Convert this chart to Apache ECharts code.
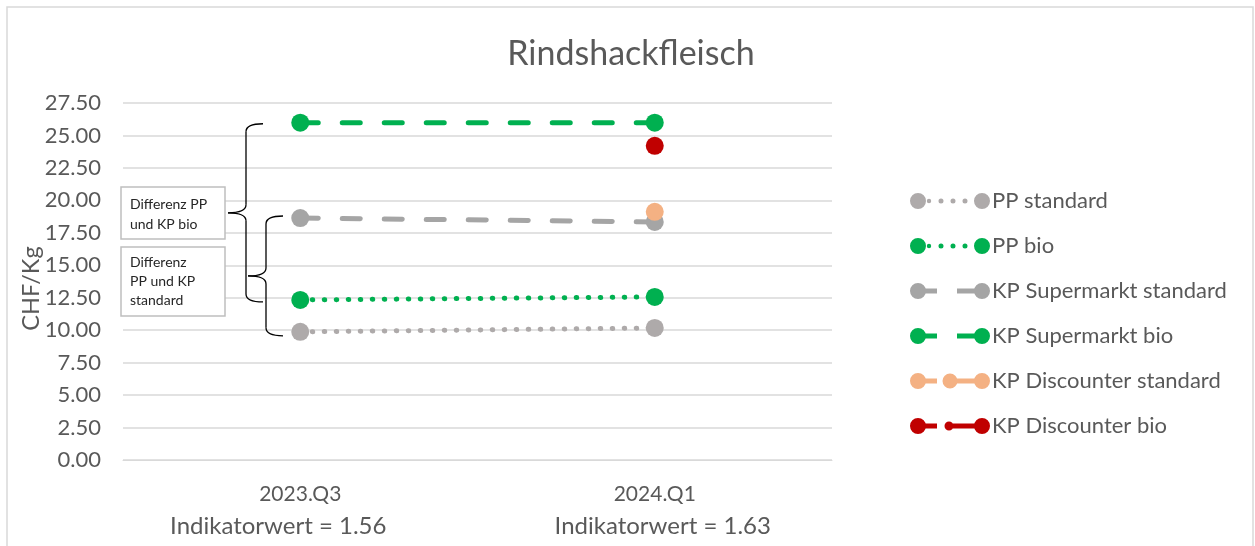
<!DOCTYPE html>
<html>
<head>
<meta charset="utf-8">
<script src="https://cdn.jsdelivr.net/npm/echarts@6/dist/echarts.min.js"></script>
<style>html,body{margin:0;padding:0;background:#fff}#c{width:1255px;height:546px}</style>
</head>
<body>
<div id="c"></div>
<script>
const categories = ['2023.Q3', '2024.Q1'];
const indicatorValues = ['1.56', '1.63'];
const ppStandard = [9.87, 10.17];
const ppBio = [12.33, 12.56];
const kpSupermarktStandard = [18.64, 18.34];
const kpSupermarktBio = [25.98, 25.98];
const kpDiscounterStandard = [null, 19.12];
const kpDiscounterBio = [null, 24.2];
const yTicks = [0, 2.5, 5, 7.5, 10, 12.5, 15, 17.5, 20, 22.5, 25, 27.5];

const FONT = 'Lato';
const TXT = '#595959';

function circ(cx, cy, r) {
  return 'M' + (cx - r) + ',' + cy + 'a' + r + ',' + r + ' 0 1,1 ' + (2 * r) + ',0a' + r + ',' + r + ' 0 1,1 ' + (-2 * r) + ',0Z';
}
function rect(x1, y1, x2, y2) {
  return 'M' + x1 + ',' + y1 + 'L' + x2 + ',' + y1 + 'L' + x2 + ',' + y2 + 'L' + x1 + ',' + y2 + 'Z';
}
const ends = circ(8, 8, 8) + circ(72, 8, 8);
const iconDots = 'path://' + ends + circ(19, 8, 2.2) + circ(31, 8, 2.5) + circ(43, 8, 2.5) + circ(55, 8, 2.5);
const iconDash = 'path://' + ends + rect(8, 5.5, 27, 10.5) + rect(47, 5.5, 72, 10.5);
const iconDiscStd = 'path://' + ends + rect(8, 5.5, 27, 10.5) + circ(40, 8, 7.5) + rect(40, 5.5, 72, 10.5);
const iconDiscBio = 'path://' + ends + rect(8, 5.5, 27, 10.5) + circ(39, 8, 4.5) + rect(39, 5.5, 72, 10.5);

const C_GREY1 = '#AEAAAA', C_GREY2 = '#A5A5A5', C_GREEN = '#00B050', C_PEACH = '#F4B183', C_RED = '#C00000';

function mkSeries(name, data, color, dash) {
  return {
    name: name, type: 'line', data: data, symbol: 'circle', symbolSize: 18,
    itemStyle: { color: color },
    lineStyle: { color: color, width: 5, type: dash, cap: 'round' },
    connectNulls: false, animation: false, z: 3
  };
}

const series = [
  mkSeries('PP standard', ppStandard, C_GREY1, [0.5, 11.5]),
  mkSeries('PP bio', ppBio, C_GREEN, [0.5, 11.5]),
  mkSeries('KP Supermarkt standard', kpSupermarktStandard, C_GREY2, [18, 24]),
  mkSeries('KP Supermarkt bio', kpSupermarktBio, C_GREEN, [18, 24]),
  mkSeries('KP Discounter standard', kpDiscounterStandard, C_PEACH, 'solid'),
  mkSeries('KP Discounter bio', kpDiscounterBio, C_RED, 'solid')
];
const icons = [iconDots, iconDots, iconDash, iconDash, iconDiscStd, iconDiscBio];

const chart = echarts.init(document.getElementById('c'), null, { renderer: 'canvas' });
const option = {
  animation: false,
  backgroundColor: '#fff',
  title: {
    text: 'Rindshackfleisch', top: 32, left: 626, textAlign: 'center',
    textStyle: { fontFamily: FONT, fontSize: 34, fontWeight: 'normal', color: TXT }
  },
  legend: {
    orient: 'vertical', left: 910, top: 190, padding: 0, itemWidth: 80, itemHeight: 16, itemGap: 23,
    selectedMode: false,
    data: series.map((s, i) => ({ name: s.name, icon: icons[i] })),
    textStyle: { fontFamily: FONT, fontSize: 22, color: TXT, lineHeight: 16, padding: [0, 0, 0, -3] }
  },
  grid: { left: 123, right: 1255 - 832, top: 103, bottom: 546 - 460, containLabel: false },
  xAxis: {
    type: 'category', data: categories, boundaryGap: true,
    axisLine: { show: true, lineStyle: { color: '#D9D9D9', width: 1 } },
    axisTick: { show: false },
    axisLabel: {
      margin: 18, color: TXT, lineHeight: 32,
      formatter: (v, i) => '{c|' + v + '}\n{i' + i + '|Indikatorwert = ' + indicatorValues[i] + '}',
      rich: {
        c: { fontFamily: FONT, fontSize: 21, color: TXT, lineHeight: 32 },
        i0: { fontFamily: FONT, fontSize: 24, color: TXT, lineHeight: 32, padding: [0, 44, 0, 0] },
        i1: { fontFamily: FONT, fontSize: 24, color: TXT, lineHeight: 32, padding: [0, 0, 0, 16] }
      }
    }
  },
  yAxis: {
    type: 'value', min: 0, max: 27.5, interval: 2.5,
    name: 'CHF/Kg', nameLocation: 'middle', nameGap: 80, nameRotate: 90, nameMoveOverlap: false,
    nameTextStyle: { fontFamily: FONT, fontSize: 23.5, color: TXT, padding: [0, 14, 0, 0] },
    axisLine: { show: false }, axisTick: { show: false },
    splitLine: { lineStyle: { color: '#D9D9D9', width: 1.5 } },
    axisLabel: { margin: 22, fontFamily: FONT, fontSize: 22, color: TXT, formatter: v => v.toFixed(2) }
  },
  series: series
};
chart.setOption(option);

// annotations: braces anchored to data values at 2023.Q3
function yPix(v) { return chart.convertToPixel({ yAxisIndex: 0 }, v); }
const BR = { fill: 'none', stroke: '#000', lineWidth: 1.3 };
function brace(xv, yTop, yBot, yMid) {
  const xe = xv + 17, xt = xv - 18, r = 8;
  return {
    type: 'group', z: 10, children: [
      { type: 'bezierCurve', shape: { x1: xe, y1: yTop, cpx1: xv, cpy1: yTop, x2: xv, y2: yTop + r }, style: BR },
      { type: 'line', shape: { x1: xv, y1: yTop + r, x2: xv, y2: yMid - r }, style: BR },
      { type: 'bezierCurve', shape: { x1: xv, y1: yMid - r, cpx1: xv, cpy1: yMid, x2: xt, y2: yMid }, style: BR },
      { type: 'bezierCurve', shape: { x1: xt, y1: yMid, cpx1: xv, cpy1: yMid, x2: xv, y2: yMid + r }, style: BR },
      { type: 'line', shape: { x1: xv, y1: yMid + r, x2: xv, y2: yBot - r }, style: BR },
      { type: 'bezierCurve', shape: { x1: xv, y1: yBot - r, cpx1: xv, cpy1: yBot, x2: xe, y2: yBot }, style: BR }
    ]
  };
}
const b1top = yPix(kpSupermarktBio[0]) + 1, b1bot = yPix(ppBio[0]) + 2;
const b2top = yPix(kpSupermarktStandard[0]) - 2, b2bot = yPix(ppStandard[0]) + 4;
const b1mid = (b1top + b1bot) / 2, b2mid = (b2top + b2bot) / 2;

chart.setOption({
  graphic: [
    { type: 'rect', shape: { x: 7, y: 7, width: 1246, height: 600 }, style: { fill: 'none', stroke: '#D9D9D9', lineWidth: 1.5 }, silent: true, z: 0 },
    brace(246, b1top, b1bot, b1mid),
    brace(266, b2top, b2bot, b2mid),
    { type: 'rect', z: 11, shape: { x: 121, y: 187, width: 104, height: 52 }, style: { fill: '#fff', stroke: '#BFBFBF', lineWidth: 1.5 } },
    { type: 'text', z: 12, x: 130, y: 194, style: { text: 'Differenz PP\nund KP bio', font: '14px "' + FONT + '"', fill: '#262626', lineHeight: 20 } },
    { type: 'rect', z: 11, shape: { x: 121, y: 247, width: 104, height: 69 }, style: { fill: '#fff', stroke: '#BFBFBF', lineWidth: 1.5 } },
    { type: 'text', z: 12, x: 130, y: 253, style: { text: 'Differenz\nPP und KP\nstandard', font: '14px "' + FONT + '"', fill: '#262626', lineHeight: 19 } }
  ]
});
</script>
</body>
</html>
